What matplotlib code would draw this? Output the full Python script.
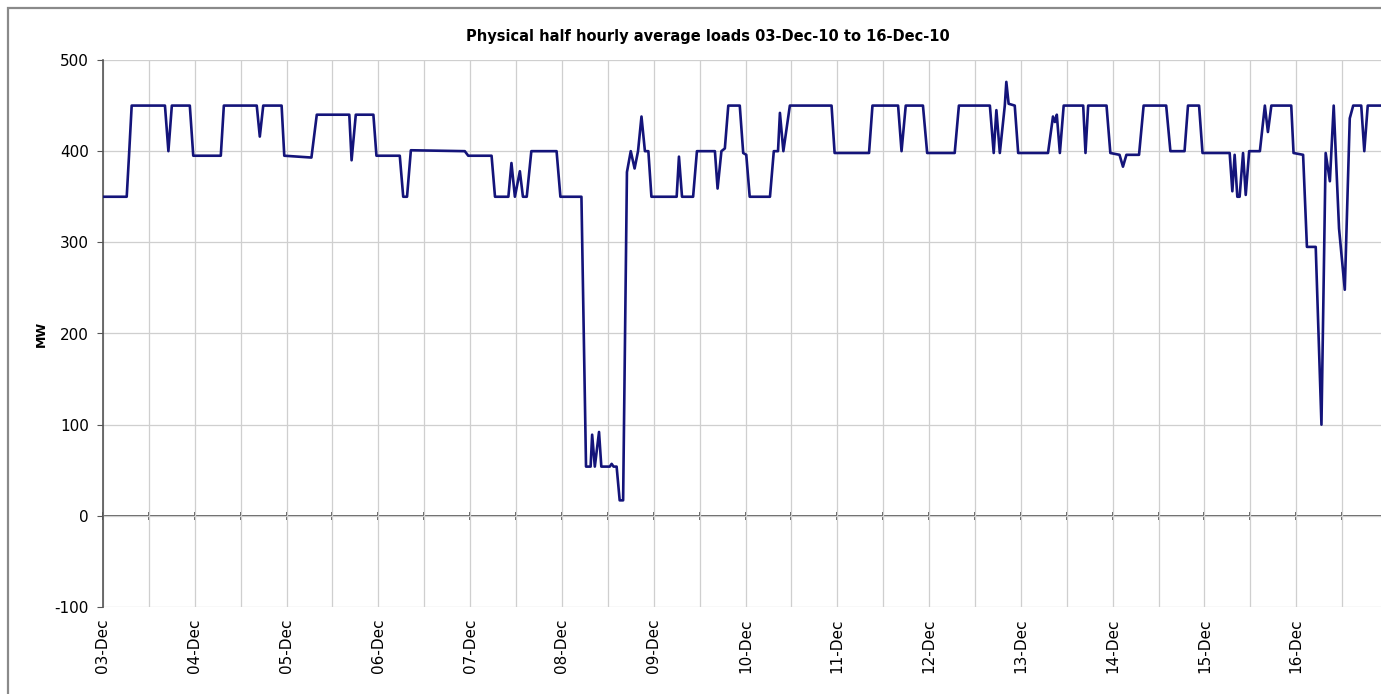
import numpy as np
import matplotlib
matplotlib.use("Agg")
from matplotlib import pyplot as plt
from matplotlib.patches import Rectangle

# hours after 03-Dec-10 00:00 and load in MW
hours = [0, 6.2, 6.8, 7.5,
         16.2, 17.1, 18.0,
         22.7, 23.6,
         30.8, 31.6,
         40.2, 41.0, 41.9,
         46.7, 47.4,
         54.5, 55.9,
         64.4, 65.0, 66.1,
         70.7, 71.5,
         77.6, 78.5, 79.5, 80.5,
         94.6, 95.5,
         101.6, 102.5,
         106.0, 106.8, 107.7, 109.0, 109.8, 110.8, 112.0,
         118.6, 119.6,
         125.1, 126.3,
         127.5, 127.9, 128.6, 129.7, 130.3, 132.5, 133.0, 133.5,
         134.3, 135.1, 136.0, 137.0, 138.0, 139.0, 139.9, 140.8, 141.7, 142.6, 143.4,
         150.0, 150.6, 151.4,
         154.3, 155.3,
         160.0, 160.7, 161.7, 162.6, 163.5,
         166.5, 167.4, 168.2, 169.1,
         174.4, 175.4, 176.5, 177.0, 177.9, 179.6,
         190.5, 191.3,
         200.3, 201.2,
         207.9, 208.8, 209.9,
         214.4, 215.5,
         222.7, 223.8,
         231.9, 232.9, 233.6, 234.5, 235.8, 236.2, 236.8, 238.4, 239.3,
         247.1, 248.4, 248.9, 249.4, 250.2, 251.2,
         256.3, 256.9, 257.6,
         262.4, 263.4, 265.8, 266.7, 267.6, 270.9, 272.1,
         278.0, 279.1,
         282.8, 283.7,
         286.6, 287.5,
         294.6, 295.3, 295.9, 296.6, 297.2, 298.1, 298.8, 299.7,
         302.5, 303.8, 304.6, 305.5,
         310.7, 311.3, 313.8, 314.8, 317.1, 318.6, 319.7, 320.8, 321.8, 323.2, 324.7, 326.0, 326.9,
         329.0, 329.8, 330.7, 335.5]
load_mw = [350, 350, 395, 450,
           450, 400, 450,
           450, 395,
           395, 450,
           450, 416, 450,
           450, 395,
           393, 440,
           440, 390, 440,
           440, 395,
           395, 350, 350, 401,
           400, 395,
           395, 350,
           350, 387, 350, 378, 350, 350, 400,
           400, 350,
           350, 54,
           54, 89, 54, 92, 54, 54, 57, 54,
           54, 17, 17, 377, 400, 381, 400, 438, 400, 400, 350,
           350, 394, 350,
           350, 400,
           400, 359, 400, 403, 450,
           450, 398, 396, 350,
           350, 400, 400, 442, 400, 450,
           450, 398,
           398, 450,
           450, 400, 450,
           450, 398,
           398, 450,
           450, 398, 445, 398, 450, 476, 452, 450, 398,
           398, 438, 432, 440, 398, 450,
           450, 398, 450,
           450, 398, 396, 383, 396, 396, 450,
           450, 400,
           400, 450,
           450, 398,
           398, 356, 396, 350, 350, 398, 352, 400,
           400, 450, 421, 450,
           450, 398, 396, 295, 295, 100, 398, 367, 450, 315, 248, 436, 450,
           450, 400, 450, 450]

day_ticks = list(range(3, 17))
day_labels = ['03-Dec', '04-Dec', '05-Dec', '06-Dec', '07-Dec', '08-Dec', '09-Dec',
              '10-Dec', '11-Dec', '12-Dec', '13-Dec', '14-Dec', '15-Dec', '16-Dec']

plt.rcParams['font.family'] = ['DejaVu Sans']
plt.rcParams['axes.unicode_minus'] = False

days = 3 + np.array(hours) / 24.0
ymin, ymax = -100, 500

fig = plt.figure(figsize=(13.81, 6.94), dpi=100)
# chart area border like the spreadsheet frame
fig.patches.append(Rectangle((8 / 1381, -0.1), 1.2, 1.1 - 8 / 694, transform=fig.transFigure,
                             fill=False, edgecolor='#8a8a8a', linewidth=1.6))

ax = fig.add_axes([103 / 1381, 87 / 694, 1285 / 1381, 547 / 694])
ax.set_xlim(3, 17)
ax.set_ylim(ymin, ymax)

# grid
ax.set_xticks(day_ticks)
ax.set_xticks(np.arange(3.5, 17.01, 1.0), minor=True)
ax.grid(True, which='both', axis='x', color='#cfcfcf', linewidth=0.9)
ax.set_yticks(range(-100, 501, 100))
ax.grid(True, which='major', axis='y', color='#cfcfcf', linewidth=0.9)
ax.set_axisbelow(True)

ax.plot(days, load_mw, color='#14147a', linewidth=1.9, zorder=3)

for s in ['top', 'right', 'bottom']:
    ax.spines[s].set_visible(False)
ax.spines['left'].set_color('#555555')
ax.spines['left'].set_linewidth(1.2)

ax.set_xticklabels(day_labels, rotation=90, fontsize=11)
ax.tick_params(axis='x', which='both', length=0, pad=8)
ax.tick_params(axis='y', length=4, color='#555555', labelsize=11, pad=6)

# the zero line with its half-day tick marks
zero_ax = ax.secondary_xaxis((0 - ymin) / (ymax - ymin))
zero_ax.spines['bottom'].set_color('#555555')
zero_ax.spines['bottom'].set_linewidth(1.3)
zero_ax.set_xticks(np.arange(3, 17.01, 0.5))
zero_ax.tick_params(axis='x', direction='inout', length=6, width=1.2,
                    color='#444444', labelbottom=False)

ax.set_ylabel('MW', fontsize=9, fontweight='bold', labelpad=5)
ax.set_title('Physical half hourly average loads 03-Dec-10 to 16-Dec-10',
             fontsize=10.5, fontweight='bold', pad=14, x=(708 - 103) / 1285)

fig.savefig('out.png', dpi=100)
